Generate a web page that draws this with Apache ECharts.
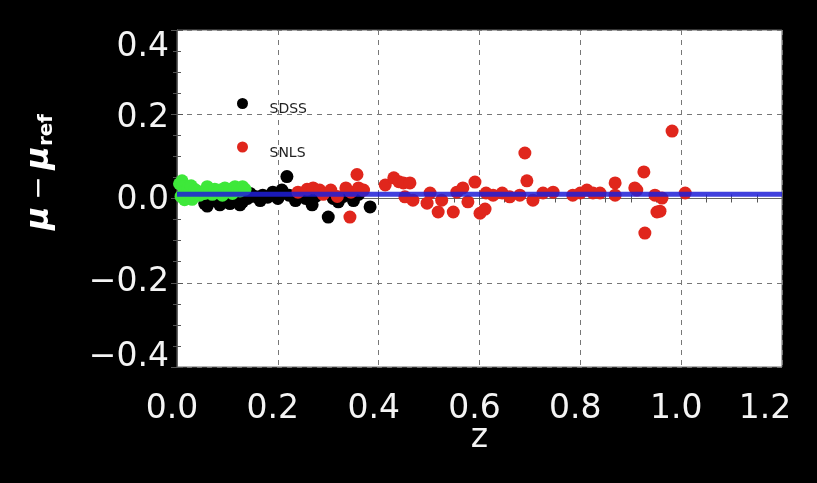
<!DOCTYPE html>
<html>
<head>
<meta charset="utf-8">
<script src="https://cdn.jsdelivr.net/npm/echarts@6/dist/echarts.min.js"></script>
<style>html,body{margin:0;padding:0;background:#000;}#c{width:817px;height:483px;}</style>
</head>
<body>
<div id="c"></div>
<script>
// ---- data ----
const lowzZ   = [0.005,0.008,0.010,0.012,0.015,0.018,0.020,0.022,0.025,0.028,0.030,0.035,0.038,0.040,0.045,0.050,0.055,0.060,0.065,0.070,0.075,0.080,0.085,0.090,0.095,0.100,0.105,0.110,0.115,0.120,0.125,0.130,0.135];
const lowzDmu = [0.035,0.005,0.042,0.028,-0.003,0.020,0.010,0.025,0.015,0.030,-0.002,0.022,0.010,0.018,0.008,0.015,0.012,0.028,0.018,0.010,0.022,0.015,0.020,0.008,0.025,0.018,0.022,0.012,0.028,0.020,0.018,0.028,0.022];

const sdssZ   = [0.055,0.060,0.070,0.085,0.095,0.105,0.115,0.125,0.130,0.140,0.145,0.155,0.165,0.170,0.180,0.190,0.200,0.208,0.218,0.222,0.235,0.245,0.255,0.268,0.275,0.285,0.300,0.310,0.320,0.330,0.340,0.350,0.360,0.383];
const sdssDmu = [-0.012,-0.018,-0.005,-0.015,-0.008,-0.012,-0.005,-0.015,-0.008,0.000,0.012,0.005,-0.005,0.008,0.003,0.015,0.000,0.020,0.052,0.008,-0.005,0.010,0.000,-0.015,0.005,0.012,-0.044,0.000,-0.008,0.005,0.012,-0.005,0.010,-0.020];

const snlsZ   = [0.240,0.258,0.270,0.283,0.290,0.305,0.318,0.335,0.343,0.345,0.357,0.360,0.370,0.413,0.430,0.440,0.449,0.462,0.452,0.468,0.496,0.502,0.518,0.525,0.548,0.555,0.567,0.577,0.591,0.601,0.611,0.613,0.627,0.645,0.660,0.680,0.690,0.694,0.706,0.726,0.746,0.785,0.800,0.813,0.825,0.839,0.869,0.869,0.908,0.912,0.926,0.928,0.948,0.952,0.958,0.962,0.982,1.008];
const snlsDmu = [0.015,0.022,0.025,0.020,0.010,0.020,0.005,0.025,-0.044,0.015,0.057,0.025,0.020,0.032,0.049,0.040,0.037,0.037,0.004,-0.004,-0.011,0.013,-0.032,-0.004,-0.032,0.015,0.025,-0.008,0.039,-0.035,-0.025,0.013,0.008,0.013,0.004,0.008,0.108,0.042,-0.004,0.013,0.015,0.008,0.013,0.020,0.013,0.013,0.037,0.008,0.025,0.020,0.063,-0.082,0.008,-0.032,-0.030,0.001,0.160,0.013];

const refLineZ   = [0.0, 1.2];
const refLineDmu = [0.010, 0.010];

const seriesNames = ['SDSS','SNLS','Low-z'];
const xTickLabels = ['0.0','0.2','0.4','0.6','0.8','1.0','1.2'];
const yTickLabels = ['\u22120.4','\u22120.2','0.0','0.2','0.4'];

// ---- build ----
const zip = (a,b) => a.map((v,i)=>[v,b[i]]);
const chart = echarts.init(document.getElementById('c'), null, {renderer:'canvas'});

const F = {color:'#f4f4f4', fontSize:33, fontFamily:'DejaVu Sans'};
const xFmt = v => { const i = Math.round(v/0.2); const t = xTickLabels[i]; if (t === undefined) return ''; return '{x' + (i === 6 ? 'L' : 'N') + '|' + t + '}'; };
const yFmt = v => { const i = Math.round((v+0.4)/0.2); const t = yTickLabels[i]; if (t === undefined) return ''; return '{y' + i + '|' + t + '}'; };

const xRich = {
  xN: Object.assign({padding:[0,10,0,0]}, F),
  xL: Object.assign({padding:[0,34,0,0]}, F)
};
const yRich = {
  y0: Object.assign({padding:[0,0,20,0]}, F),
  y1: Object.assign({padding:[0,0,0,0]}, F),
  y2: Object.assign({padding:[4,0,0,0]}, F),
  y3: Object.assign({padding:[8,0,0,0]}, F),
  y4: Object.assign({padding:[34,0,0,0]}, F)
};

const commonAxis = {
  axisLine:{show:true, lineStyle:{color:'#666', width:1}},
  axisTick:{show:true, inside:true, length:6, lineStyle:{color:'#555'}},
  minorTick:{show:true, splitNumber:4, length:4, lineStyle:{color:'#555'}},
};

const option = {
  backgroundColor:'#000',
  animation:false,
  grid:{left:177, right:35, top:30, bottom:116, show:true, backgroundColor:'#fff', borderColor:'#666', borderWidth:1},
  legend:{
    data:seriesNames, orient:'vertical', left:232, top:93, z:1,
    itemWidth:44, itemHeight:11, itemGap:25, icon:'circle',
    formatter: n => '{t|' + n + '}',
    textStyle:{color:'#222', fontSize:14, fontFamily:'DejaVu Sans',
      rich:{t:{color:'#222', fontSize:14, fontFamily:'DejaVu Sans', padding:[12,0,0,0]}}},
    selectedMode:false
  },
  xAxis:[
    Object.assign({}, commonAxis, {type:'value', position:'bottom', min:0, max:1.2, interval:0.2,
      axisLabel:Object.assign({margin:26, formatter:xFmt, rich:xRich}, F),
      splitLine:{show:true, lineStyle:{color:'#777', type:[5,5], width:1}},
      name:'z', nameLocation:'middle', nameGap:55, nameMoveOverlap:false,
      nameTextStyle:{color:'#f4f4f4', fontSize:33, fontFamily:'DejaVu Sans'}}),
    Object.assign({}, commonAxis, {type:'value', position:'top', min:0, max:1.2, interval:0.2,
      axisLabel:{show:false}, splitLine:{show:false}})
  ],
  yAxis:[
    Object.assign({}, commonAxis, {type:'value', position:'left', min:-0.4, max:0.4, interval:0.2,
      axisLabel:Object.assign({margin:8, formatter:yFmt, rich:yRich}, F),
      splitLine:{show:true, lineStyle:{color:'#777', type:[5,5], width:1}}}),
    Object.assign({}, commonAxis, {type:'value', position:'right', min:-0.4, max:0.4, interval:0.2,
      axisLabel:{show:false}, splitLine:{show:false}})
  ],
  graphic:[{
    type:'text', x:40, y:172, rotation:Math.PI/2,
    style:{
      text:'{mu|\u03bc}  {op|\u2212}  {mu|\u03bc}{sub|ref}',
      align:'center', verticalAlign:'middle', fill:'#fff',
      rich:{
        mu:{fontSize:32, fontWeight:'bold', fontStyle:'italic', fontFamily:'DejaVu Sans', fill:'#fff', lineHeight:40},
        op:{fontSize:28, fontFamily:'DejaVu Sans', fill:'#fff', lineHeight:40},
        sub:{fontSize:20, fontWeight:'bold', fontFamily:'DejaVu Sans', fill:'#fff', lineHeight:40, padding:[14,0,0,0]}
      }
    }
  }],
  series:[
    {name:'SDSS', type:'scatter', data:zip(sdssZ,sdssDmu), symbol:'circle', symbolSize:13, itemStyle:{color:'#000', opacity:1}, z:3},
    {name:'SNLS', type:'scatter', data:zip(snlsZ,snlsDmu), symbol:'circle', symbolSize:13, itemStyle:{color:'#e0261c', opacity:1}, z:3},
    {name:'Low-z', type:'scatter', data:zip(lowzZ,lowzDmu), symbol:'circle', symbolSize:13, itemStyle:{color:'#3ee83a', opacity:1}, z:3},
    {name:'ref', type:'line', data:zip(refLineZ,refLineDmu), symbol:'none', lineStyle:{color:'rgba(30,30,215,0.85)', width:5}, z:5, silent:true}
  ]
};
chart.setOption(option);
</script>
</body>
</html>
